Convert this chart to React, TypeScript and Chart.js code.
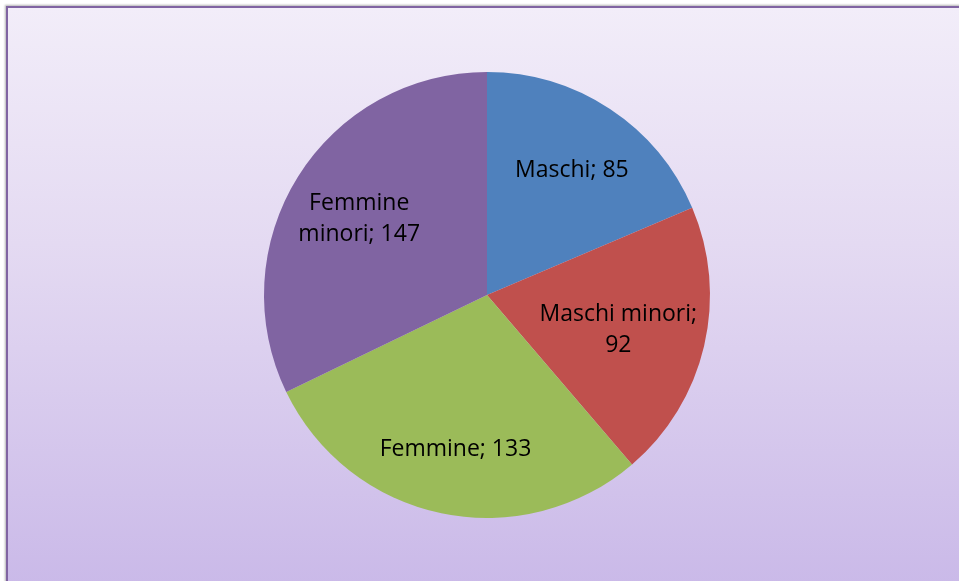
import React, { useEffect, useRef } from "react";
import { Chart, registerables } from "chart.js";

Chart.register(...registerables);

const categories: string[][] = [["Maschi; 85"], ["Maschi minori;", "92"], ["Femmine; 133"], ["Femmine", "minori; 147"]];
const values: number[] = [85, 92, 133, 147];
const colors: string[] = ["#4F81BD", "#C0504D", "#9BBB59", "#8064A2"];

const FONT = "23px 'Open Sans'";
const LINE_H = 31;

const labelPlugin = {
  id: "sliceLabels",
  afterDatasetsDraw(chart: any) {
    const ctx = chart.ctx as CanvasRenderingContext2D;
    const meta = chart.getDatasetMeta(0);
    ctx.save();
    ctx.font = FONT;
    ctx.fillStyle = "#000";
    ctx.textAlign = "center";
    ctx.textBaseline = "middle";
    meta.data.forEach((arc: any, i: number) => {
      const { x, y, startAngle, endAngle, outerRadius } = arc.getProps(["x", "y", "startAngle", "endAngle", "outerRadius"], true);
      const mid = (startAngle + endAngle) / 2;
      const lines = categories[i];
      const w = Math.max(...lines.map((l) => ctx.measureText(l).width));
      const h = lines.length * LINE_H;
      let d = outerRadius * 0.69;
      const fits = (cx: number, cy: number) => {
        const corners = [
          [cx - w / 2, cy - h / 2],
          [cx + w / 2, cy - h / 2],
          [cx - w / 2, cy + h / 2],
          [cx + w / 2, cy + h / 2],
        ];
        return corners.every(([px, py]) => Math.hypot(px - x, py - y) <= outerRadius * 0.985);
      };
      let cx = x + Math.cos(mid) * d;
      let cy = y + Math.sin(mid) * d;
      while (!fits(cx, cy) && d > 0) {
        d -= 1;
        cx = x + Math.cos(mid) * d;
        cy = y + Math.sin(mid) * d;
      }
      cy += 4;
      lines.forEach((l, k) => {
        ctx.fillText(l, cx, cy - h / 2 + LINE_H * (k + 0.5));
      });
    });
    ctx.restore();
  },
};

export default function App() {
  const ref = useRef<HTMLCanvasElement>(null);
  useEffect(() => {
    document.body.style.margin = "0";
    const chart = new Chart(ref.current!, {
      type: "pie",
      data: {
        labels: categories.map((c) => c.join(" ")),
        datasets: [{ data: values, backgroundColor: colors, borderWidth: 0 }],
      },
      options: {
        responsive: false,
        animation: false,
        layout: { padding: { left: 264, right: 249, top: 72, bottom: 63 } },
        plugins: { legend: { display: false }, tooltip: { enabled: false } },
      },
      plugins: [labelPlugin],
    });
    return () => chart.destroy();
  }, []);
  return (
    <div style={{ position: "relative", width: 959, height: 581, overflow: "hidden" }}>
      <div
        style={{
          position: "absolute",
          left: 6,
          top: 6,
          width: 970,
          height: 590,
          border: "2px solid #8064A2",
          boxShadow: "-1px -1px 2px rgba(0,0,0,0.3)",
          background: "linear-gradient(to bottom, #F2EDF9 0%, #E4DAF2 40%, #C9B8E8 100%)",
        }}
      />
      <canvas ref={ref} width={959} height={581} style={{ position: "absolute", left: 0, top: 0, display: "block" }} />
    </div>
  );
}
